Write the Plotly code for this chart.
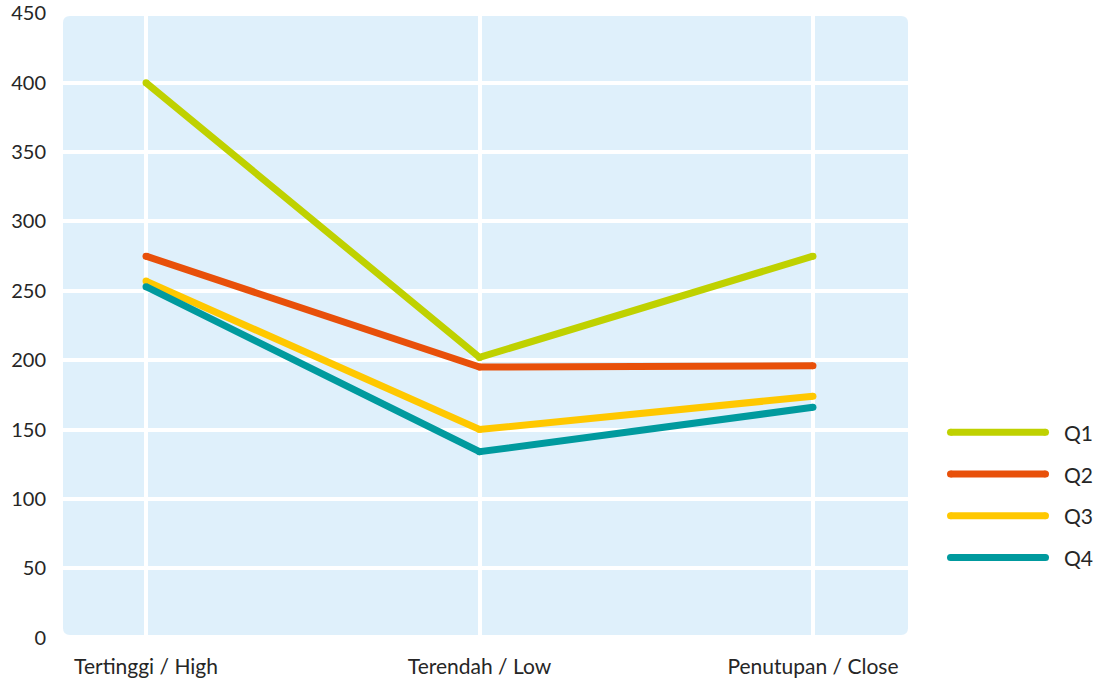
import plotly.graph_objects as go

# Price summary per quarter
categories = ["Tertinggi / High", "Terendah / Low", "Penutupan / Close"]
series_names = ["Q1", "Q2", "Q3", "Q4"]
q1 = [400, 202, 275]
q2 = [275, 195, 196]
q3 = [257, 150, 174]
q4 = [253, 134, 166]
series_values = [q1, q2, q3, q4]
colors = ["#BFD100", "#E8500A", "#FFC800", "#009A9E"]
y_ticks = [0, 50, 100, 150, 200, 250, 300, 350, 400, 450]

FONT = "Lato, 'Open Sans', sans-serif"
TEXT = "#262626"
LINE_W = 7

fig = go.Figure()

for name, vals, col in zip(series_names, series_values, colors):
    fig.add_trace(go.Scatter(
        x=categories, y=vals, name=name, mode="lines+markers",
        line=dict(color=col, width=LINE_W),
        marker=dict(color=col, size=LINE_W, line=dict(width=0)),
        xaxis="x", yaxis="y", showlegend=False, hoverinfo="x+y+name",
    ))

# Legend drawn on its own small axis pair, one row per series
for i, (name, col) in enumerate(zip(series_names, colors)):
    fig.add_trace(go.Scatter(
        x=[0, 1], y=[i, i], mode="lines+markers",
        line=dict(color=col, width=LINE_W),
        marker=dict(color=col, size=LINE_W, line=dict(width=0)),
        xaxis="x2", yaxis="y2", showlegend=False, hoverinfo="skip",
    ))
    fig.add_annotation(
        x=1.175, y=i, xref="x2", yref="y2", text=name, showarrow=False,
        xanchor="left", yanchor="middle",
        font=dict(family=FONT, size=21, color=TEXT),
    )

# Rounded light-blue plot background (paper coords = plot area)
W_PX, H_PX = 845.0, 629.0
x0, x1 = 0.0, 1.0
y0, y1 = 3.0 / H_PX, 1.0 - 3.0 / H_PX
rx, ry = 7.0 / W_PX, 7.0 / H_PX
path = (
    f"M {x0 + rx},{y1} L {x1 - rx},{y1} Q {x1},{y1} {x1},{y1 - ry} "
    f"L {x1},{y0 + ry} Q {x1},{y0} {x1 - rx},{y0} "
    f"L {x0 + rx},{y0} Q {x0},{y0} {x0},{y0 + ry} "
    f"L {x0},{y1 - ry} Q {x0},{y1} {x0 + rx},{y1} Z"
)
fig.add_shape(type="path", path=path, xref="x domain", yref="y domain",
              fillcolor="#DFF0FB", line=dict(width=0), layer="below")

PAPER_W = 1095 - 63
fig.update_layout(
    width=1095, height=678,
    margin=dict(l=63, r=0, t=12, b=37),
    paper_bgcolor="white", plot_bgcolor="rgba(0,0,0,0)",
    font=dict(family=FONT, color=TEXT),
    xaxis=dict(
        type="category", domain=[0, 845 / PAPER_W],
        range=[-0.249, 2.285],
        showgrid=True, gridcolor="white", gridwidth=4,
        zeroline=False, showline=False,
        ticks="outside", ticklen=10, tickcolor="rgba(0,0,0,0)",
        tickfont=dict(family=FONT, size=21, color=TEXT),
        ticklabeloverflow="allow",
    ),
    yaxis=dict(
        range=[-0.3, 450.3], tickmode="array", tickvals=y_ticks,
        showgrid=True, gridcolor="white", gridwidth=4,
        zeroline=False, showline=False,
        ticks="outside", ticklen=12, tickcolor="rgba(0,0,0,0)",
        tickfont=dict(family=FONT, size=20, color=TEXT),
        ticklabeloverflow="allow",
    ),
    xaxis2=dict(
        domain=[(940 - 63) / PAPER_W, 1.0], range=[-0.1105, 1.521],
        visible=False, anchor="y2",
    ),
    yaxis2=dict(
        domain=[(641 - 574) / 629, (641 - 420) / 629], range=[3.333, -0.333],
        visible=False, anchor="x2",
    ),
)

fig.write_html("out.html")
